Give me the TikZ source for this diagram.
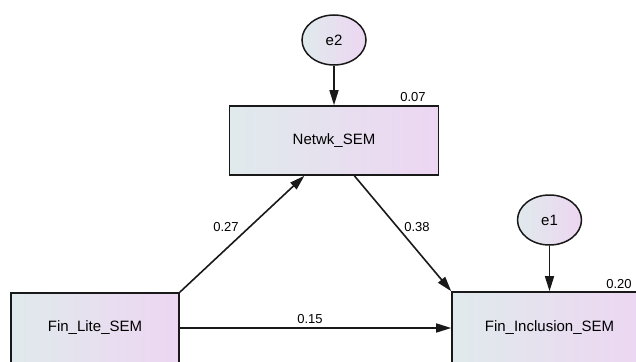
\documentclass[tikz,border=0pt]{standalone}
\usepackage{fontspec}
\setmainfont{Liberation Sans}
\usetikzlibrary{arrows.meta,shapes.geometric}
\definecolor{fill_left}{RGB}{224,234,236}
\definecolor{fill_right}{RGB}{237,214,242}
\definecolor{line_dark}{RGB}{25,25,25}

\begin{document}
\begin{tikzpicture}[->,x=1pt,y=-1pt,line width=1.6pt,>={Triangle[length=15pt,width=9pt]}]
    \tikzstyle{obs}=[draw=line_dark, rectangle, left color=fill_left, right color=fill_right, inner sep=0pt, line width=1.6pt, font=\fontsize{15}{18}\selectfont]
    \tikzstyle{err}=[draw=line_dark, ellipse, minimum width=64pt, minimum height=50pt, inner sep=0pt, left color=fill_left, right color=fill_right, line width=1.5pt, font=\fontsize{15}{18}\selectfont]
    \tikzstyle{coef}=[inner sep=0pt, text=black, font=\fontsize{13}{15}\selectfont]

    \useasboundingbox (0,0) rectangle (636,361);
    \clip (0,0) rectangle (636,361);

    \node[err] (e2)    at (334,40)    {e2};
    \node[err] (e1)    at (549.5,220) {e1};
    \node[obs, minimum width=209pt, minimum height=69pt] (netwk) at (334,140.5) {Netwk\_SEM};
    \node[obs, minimum width=168pt, minimum height=70pt] (lite)  at (95,328)    {Fin\_Lite\_SEM};
    \node[obs, minimum width=195pt, minimum height=72pt] (incl)  at (549.5,328) {Fin\_Inclusion\_SEM};

    \node[coef] (r_netwk) at (413,97)  {0.07};
    \node[coef] (r_incl)  at (619,284) {0.20};
    \node[coef] (c_ln)    at (226,227) {0.27};
    \node[coef] (c_ni)    at (417,227) {0.38};
    \node[coef] (c_li)    at (310,319) {0.15};

    \path
     (e2) edge[line_dark] (netwk)
     (e1) edge[line_dark] (incl)
     (lite.north east) edge[line_dark] (netwk.-130)
     (netwk.-60) edge[line_dark] (incl.north west)
     (lite) edge[line_dark] (incl)
     ;
\end{tikzpicture}
\end{document}
